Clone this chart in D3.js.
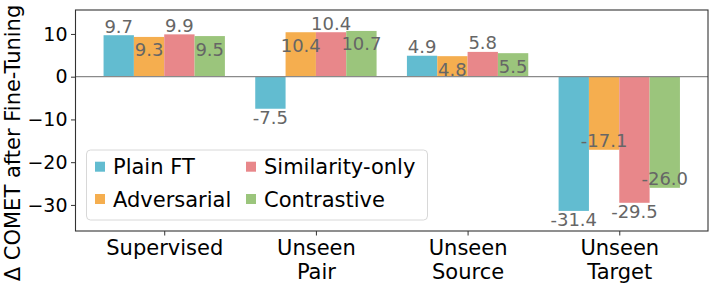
<!DOCTYPE html>
<html>
<head>
	<meta charset="utf-8">
	<style>
		body { margin: 0; background: white; }
		text { font-family: "DejaVu Sans", sans-serif; }
		.axis line { stroke: #333; }
		.axis path { display: none; }
		.axis text { fill: black; }
	</style>
	<title>Delta COMET after fine-tuning</title>
</head>
<body>
	<script src="https://cdnjs.cloudflare.com/ajax/libs/d3/7.8.5/d3.min.js"></script>
	<script>
	// groups on the x axis
	var categories = [["Supervised"], ["Unseen", "Pair"], ["Unseen", "Source"], ["Unseen", "Target"]];
	var methods = ["Plain FT", "Adversarial", "Similarity-only", "Contrastive"];
	var colors = ["#62bcd0", "#f5ae4f", "#e8878a", "#9bc57c"];

	// delta COMET per method
	var plainFT     = [9.7, -7.5, 4.9, -31.4];
	var adversarial = [9.3, 10.4, 4.8, -17.1];
	var similarity  = [9.9, 10.4, 5.8, -29.5];
	var contrastive = [9.5, 10.7, 5.5, -26.0];
	var series = [plainFT, adversarial, similarity, contrastive];

	var yTicks = [-30, -20, -10, 0, 10];

	var W = 718, H = 294;
	var plotL = 75.5, plotR = 708, plotT = 10, plotB = 231;

	var svg = d3.select("body")
		.append("svg")
		.attr("width", W)
		.attr("height", H);

	var xScale = d3.scaleLinear()
		.domain([-0.585, 3.585])
		.range([plotL, plotR]);

	var yScale = d3.scaleLinear()
		.domain([-36.1, 15.6])
		.range([plotB, plotT]);

	var barW = 0.2;

	// bars
	series.forEach(function(vals, s) {
		var off = (s - 1.5) * barW;
		svg.selectAll("rect.s" + s)
			.data(vals)
			.enter()
			.append("rect")
			.attr("class", "s" + s)
			.attr("x", function(d, i) { return xScale(i + off - barW / 2); })
			.attr("width", xScale(barW) - xScale(0))
			.attr("y", function(d) { return yScale(Math.max(d, 0)); })
			.attr("height", function(d) { return Math.abs(yScale(d) - yScale(0)); })
			.style("fill", colors[s]);
	});

	// zero line
	svg.append("line")
		.attr("x1", plotL).attr("x2", plotR)
		.attr("y1", yScale(0)).attr("y2", yScale(0))
		.style("stroke", "#8a8a8a")
		.style("stroke-width", 1.2);

	// value labels: even series outside the bar end, odd series inside
	series.forEach(function(vals, s) {
		var off = (s - 1.5) * barW;
		svg.selectAll("text.v" + s)
			.data(vals)
			.enter()
			.append("text")
			.attr("class", "v" + s)
			.attr("x", function(d, i) { return xScale(i + off); })
			.attr("y", function(d) {
				var outside = (s % 2 === 0);
				var below = (d >= 0) ? !outside : outside;
				if (below) return yScale(d) + (d >= 0 ? 19.5 : 15.5);
				return yScale(d) - 2.5;
			})
			.style("text-anchor", "middle")
			.style("font-size", "18px")
			.style("fill", "#666")
			.text(function(d) { return d.toFixed(1); });
	});

	// axes
	var yAxis = d3.axisLeft(yScale)
		.tickValues(yTicks)
		.tickSize(4.5)
		.tickPadding(3.5)
		.tickFormat(function(d) { return d < 0 ? "\u2212" + Math.abs(d) : d; });
	var gy = svg.append("g")
		.attr("class", "axis")
		.attr("transform", "translate(" + plotL + ",0)")
		.call(yAxis);
	gy.selectAll("text").style("font-size", "19px");

	var xAxis = d3.axisBottom(xScale)
		.tickValues([0, 1, 2, 3])
		.tickSize(4.5)
		.tickFormat("");
	var gx = svg.append("g")
		.attr("class", "axis")
		.attr("transform", "translate(0," + plotB + ")")
		.call(xAxis);

	// multi-line category labels
	gx.selectAll("g.tick").each(function(d) {
		var t = d3.select(this).append("text")
			.attr("y", 24)
			.style("text-anchor", "middle")
			.style("font-size", "21px")
			.style("fill", "black");
		categories[d].forEach(function(line, k) {
			t.append("tspan")
				.attr("x", 0)
				.attr("dy", k === 0 ? 0 : 23.5)
				.text(line);
		});
	});

	// frame
	svg.append("rect")
		.attr("x", plotL).attr("y", plotT)
		.attr("width", plotR - plotL)
		.attr("height", plotB - plotT)
		.style("fill", "none")
		.style("stroke", "#333")
		.style("stroke-width", 1.1);

	// y label
	svg.append("text")
		.attr("transform", "translate(20," + 143 + ") rotate(-90)")
		.style("text-anchor", "middle")
		.style("font-size", "21px")
		.style("fill", "black")
		.text("\u0394 COMET after Fine-Tuning");

	// legend
	var lg = svg.append("g");
	lg.append("rect")
		.attr("x", 86.5).attr("y", 150)
		.attr("width", 341).attr("height", 70)
		.attr("rx", 4)
		.style("fill", "white")
		.style("fill-opacity", 0.8)
		.style("stroke", "#d8d8d8");
	var colX = [95, 246], rowY = [166.7, 199];
	methods.forEach(function(m, i) {
		var cx = colX[Math.floor(i / 2)], cy = rowY[i % 2];
		lg.append("rect")
			.attr("x", cx).attr("y", cy - 5)
			.attr("width", 10).attr("height", 10)
			.style("fill", colors[i]);
		lg.append("text")
			.attr("x", cx + 18).attr("y", cy + 7.5)
			.style("font-size", "21px")
			.style("fill", "black")
			.text(m);
	});
	</script>
</body>
</html>
